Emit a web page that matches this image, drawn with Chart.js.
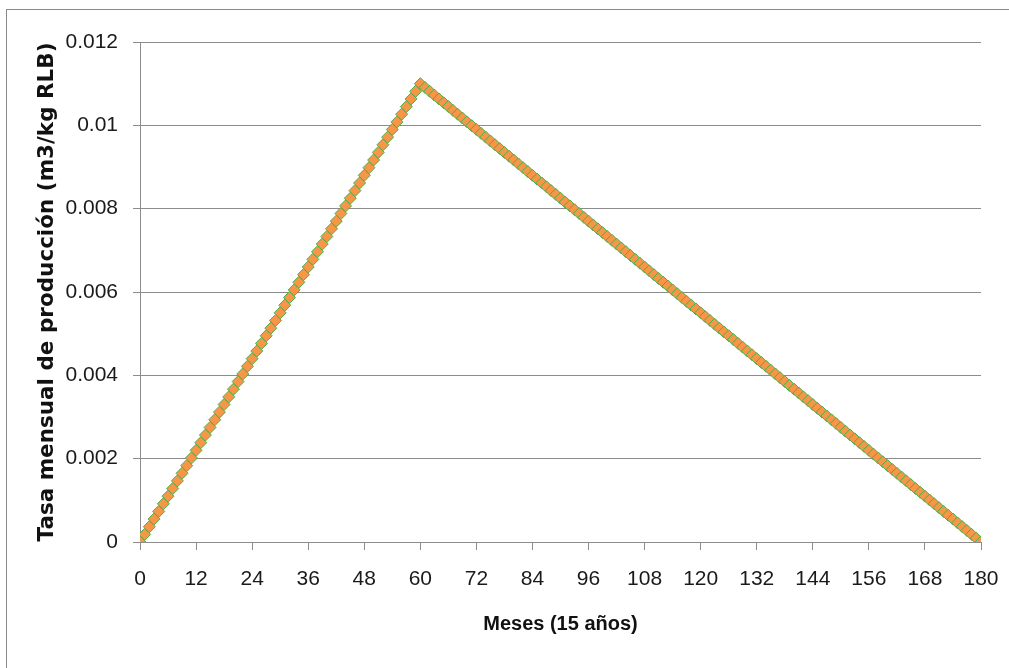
<!DOCTYPE html>
<html>
<head>
<meta charset="utf-8">
<script src="https://cdn.jsdelivr.net/npm/chart.js@4"></script>
<style>
  html,body{margin:0;padding:0;background:#fff;}
  #wrap{width:1009px;height:668px;position:relative;}
</style>
</head>
<body>
<div id="wrap"><canvas id="c" width="1009" height="668"></canvas></div>
<script>
// meses 0..180
const months = [
  0,1,2,3,4,5,6,7,8,9,10,11,12,13,14,15,16,17,18,19,20,21,22,23,24,25,26,27,28,29,
  30,31,32,33,34,35,36,37,38,39,40,41,42,43,44,45,46,47,48,49,50,51,52,53,54,55,56,57,58,59,
  60,61,62,63,64,65,66,67,68,69,70,71,72,73,74,75,76,77,78,79,80,81,82,83,84,85,86,87,88,89,
  90,91,92,93,94,95,96,97,98,99,100,101,102,103,104,105,106,107,108,109,110,111,112,113,114,115,116,117,118,119,
  120,121,122,123,124,125,126,127,128,129,130,131,132,133,134,135,136,137,138,139,140,141,142,143,144,145,146,147,148,149,
  150,151,152,153,154,155,156,157,158,159,160,161,162,163,164,165,166,167,168,169,170,171,172,173,174,175,176,177,178,179,
  180
];
// tasa mensual (m3/kg RLB)
const rate = [
  0,0.000183,0.000367,0.00055,0.000733,0.000917,0.0011,0.001283,0.001467,0.00165,
  0.001833,0.002017,0.0022,0.002383,0.002567,0.00275,0.002933,0.003117,0.0033,0.003483,
  0.003667,0.00385,0.004033,0.004217,0.0044,0.004583,0.004767,0.00495,0.005133,0.005317,
  0.0055,0.005683,0.005867,0.00605,0.006233,0.006417,0.0066,0.006783,0.006967,0.00715,
  0.007333,0.007517,0.0077,0.007883,0.008067,0.00825,0.008433,0.008617,0.0088,0.008983,
  0.009167,0.00935,0.009533,0.009717,0.0099,0.010083,0.010267,0.01045,0.010633,0.010817,
  0.011,
  0.010908,0.010817,0.010725,0.010633,0.010542,0.01045,0.010358,0.010267,0.010175,0.010083,
  0.009992,0.0099,0.009808,0.009717,0.009625,0.009533,0.009442,0.00935,0.009258,0.009167,
  0.009075,0.008983,0.008892,0.0088,0.008708,0.008617,0.008525,0.008433,0.008342,0.00825,
  0.008158,0.008067,0.007975,0.007883,0.007792,0.0077,0.007608,0.007517,0.007425,0.007333,
  0.007242,0.00715,0.007058,0.006967,0.006875,0.006783,0.006692,0.0066,0.006508,0.006417,
  0.006325,0.006233,0.006142,0.00605,0.005958,0.005867,0.005775,0.005683,0.005592,0.0055,
  0.005408,0.005317,0.005225,0.005133,0.005042,0.00495,0.004858,0.004767,0.004675,0.004583,
  0.004492,0.0044,0.004308,0.004217,0.004125,0.004033,0.003942,0.00385,0.003758,0.003667,
  0.003575,0.003483,0.003392,0.0033,0.003208,0.003117,0.003025,0.002933,0.002842,0.00275,
  0.002658,0.002567,0.002475,0.002383,0.002292,0.0022,0.002108,0.002017,0.001925,0.001833,
  0.001742,0.00165,0.001558,0.001467,0.001375,0.001283,0.001192,0.0011,0.001008,0.000917,
  0.000825,0.000733,0.000642,0.00055,0.000458,0.000367,0.000275,0.000183,0.000092,0
];
const xTicks = [0,12,24,36,48,60,72,84,96,108,120,132,144,156,168,180];
const yTicks = [0,0.002,0.004,0.006,0.008,0.01,0.012];

const gridGray = "#8c8c8c";
const sans = "'Liberation Sans Narrow','Liberation Sans',sans-serif";

// marco exterior
const frame = {
  id: "frame",
  beforeDraw(chart){
    const c = chart.ctx;
    c.save();
    c.strokeStyle = "#8a8a8a";
    c.lineWidth = 1;
    c.strokeRect(6.5, 9.5, 1020, 700);
    c.restore();
  }
};

new Chart(document.getElementById("c"), {
  type: "line",
  data: {
    datasets: [{
      data: months.map((m,i)=>({x:m, y:rate[i]})),
      borderColor: "#5cb85c",
      borderWidth: 2,
      pointStyle: "rectRot",
      pointRadius: 6,
      pointBackgroundColor: "#f79646",
      pointBorderColor: "#4cae4c",
      pointBorderWidth: 1,
      tension: 0
    }]
  },
  options: {
    responsive: false,
    animation: false,
    layout: { padding: { left: 0, top: 42, right: 28, bottom: 0 } },
    plugins: { legend: { display: false }, tooltip: { enabled: false } },
    scales: {
      x: {
        type: "linear",
        min: 0, max: 180,
        afterBuildTicks: s => { s.ticks = xTicks.map(v=>({value:v})); },
        afterFit: s => { s.height = 126; s.paddingRight = 0; s.paddingLeft = 0; },
        grid: { drawOnChartArea: false, drawTicks: true, tickLength: 8, color: gridGray },
        border: { color: gridGray },
        ticks: { color: "#1a1a1a", font: { family: sans, size: 21 }, padding: 17, maxRotation: 0 },
        title: {
          display: true, text: "Meses (15 años)", color: "#111",
          font: { family: sans, size: 20, weight: "bold" },
          padding: { top: 0, bottom: 32 }
        }
      },
      y: {
        min: 0, max: 0.012,
        afterBuildTicks: s => { s.ticks = yTicks.map(v=>({value:v})); },
        afterFit: s => { s.width = 140; s.paddingTop = 0; s.paddingBottom = 0; },
        grid: { color: gridGray, tickLength: 7 },
        border: { color: gridGray },
        ticks: {
          color: "#1a1a1a", font: { family: sans, size: 21 }, padding: 15,
          callback: v => String(+v.toFixed(3))
        },
        title: {
          display: true, text: "Tasa mensual de producción (m3/kg RLB)", color: "#111",
          font: { family: "'DejaVu Sans',sans-serif", size: 21.5, weight: "bold" },
          padding: { top: 35, bottom: 0 }
        }
      }
    }
  },
  plugins: [frame]
});
</script>
</body>
</html>
